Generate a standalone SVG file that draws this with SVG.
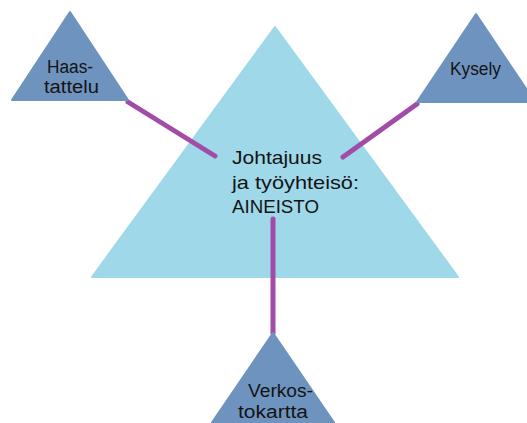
<svg xmlns="http://www.w3.org/2000/svg" width="527" height="423" viewBox="0 0 527 423">
<style>
.big{fill:#9ED8E9;stroke:#9ED8E9;stroke-width:2;stroke-linejoin:round}
.small{fill:#6F93BF;stroke:#6F93BF;stroke-width:2;stroke-linejoin:round}
.t{font-family:"Liberation Sans",Arial,sans-serif;fill:#141414;font-size:18px}
.tm{font-family:"Liberation Sans",Arial,sans-serif;fill:#141414;font-size:19px}
.c{stroke:#A24BA8;stroke-width:5;stroke-linecap:round;fill:none}
</style>
<rect width="527" height="423" fill="#ffffff"/>
<g id="main">
<polygon class="big" points="275,27 92,277 458,277"/>
<text class="tm" x="232" y="164" textLength="90" lengthAdjust="spacingAndGlyphs">Johtajuus</text>
<text class="tm" x="232" y="189" textLength="127" lengthAdjust="spacingAndGlyphs">ja työyhteisö:</text>
<text class="tm" x="232" y="213" textLength="87" lengthAdjust="spacingAndGlyphs">AINEISTO</text>
</g>
<g id="connectors">
<line class="c" x1="128" y1="102" x2="215" y2="156"/>
<line class="c" x1="417" y1="104" x2="343" y2="157"/>
<line class="c" x1="273" y1="219" x2="273" y2="333"/>
</g>
<g id="haastattelu">
<polygon class="small" points="70,12 12,100 128,100"/>
<text class="t" x="47" y="73" textLength="46" lengthAdjust="spacingAndGlyphs">Haas-</text>
<text class="t" x="44" y="93" textLength="55" lengthAdjust="spacingAndGlyphs">tattelu</text>
</g>
<g id="kysely">
<polygon class="small" points="476,14 417,102 535,102"/>
<text class="t" x="450" y="75" textLength="51" lengthAdjust="spacingAndGlyphs">Kysely</text>
</g>
<g id="verkostokartta">
<polygon class="small" points="273,333 211,424 335,424"/>
<text class="t" x="248" y="397" textLength="65" lengthAdjust="spacingAndGlyphs">Verkos-</text>
<text class="t" x="238" y="418" textLength="70" lengthAdjust="spacingAndGlyphs">tokartta</text>
</g>
</svg>
